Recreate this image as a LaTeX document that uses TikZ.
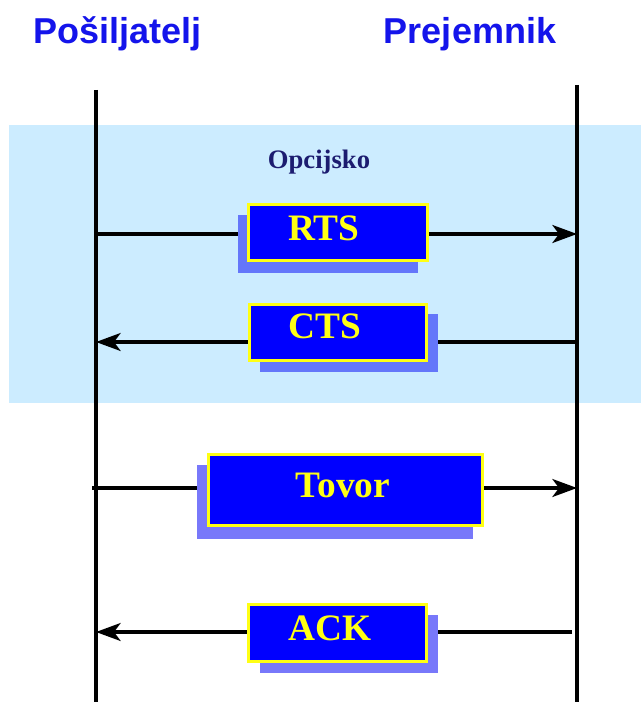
\documentclass[tikz,border=0pt]{standalone}
\usepackage{fontspec}
\setmainfont{Liberation Serif}
\newfontfamily\titlefont{Liberation Sans}
\usetikzlibrary{arrows.meta}
\definecolor{band}{RGB}{204,236,255}
\definecolor{titleblue}{RGB}{20,20,235}
\definecolor{navy}{RGB}{28,28,112}
\definecolor{boxblue}{RGB}{0,0,255}
\definecolor{boxyellow}{RGB}{255,255,20}
\definecolor{shadowband}{RGB}{100,118,250}
\definecolor{shadowwhite}{RGB}{120,120,250}
\tikzset{
  lifeline/.style={line width=2.4pt, black},
  msg/.style={line width=2.3pt, black, -{Stealth[length=18.5pt,width=13.5pt,inset=5pt]}},
  msgbox/.style={rectangle, draw=boxyellow, fill=boxblue, line width=2.4pt, inner sep=0pt},
  msgtext/.style={anchor=base, text=boxyellow, font=\fontsize{28}{30}\selectfont\bfseries, inner sep=0pt},
  title/.style={anchor=base, text=titleblue, font=\titlefont\fontsize{27}{30}\selectfont\bfseries, inner sep=0pt},
}
\begin{document}
\begin{tikzpicture}[x=0.75pt,y=-0.75pt]
\useasboundingbox (0,0) rectangle (641,702);
\fill[white] (0,0) rectangle (641,702);
% optional band
\fill[band] (9,125) rectangle (641,403);
% titles
\node[title] (snd) at (117.5,44) {Pošiljatelj};
\node[title] (rcv) at (470,44) {Prejemnik};
% lifelines
\coordinate (Ltop) at (96,90);
\coordinate (Lbot) at (96,702);
\coordinate (Rtop) at (577,85);
\coordinate (Rbot) at (577,702);
\draw[lifeline] (Ltop) -- (Lbot);
\draw[lifeline] (Rtop) -- (Rbot);
\node[anchor=base, text=navy, font=\fontsize{20}{22}\selectfont\bfseries, inner sep=0pt] (opt) at (319,169) {Opcijsko};
% message endpoints
\coordinate (rtsL) at (96,234);  \coordinate (rtsR) at (577,234);
\coordinate (ctsL) at (96,342);  \coordinate (ctsR) at (577,342);
\coordinate (tovL) at (92,488);  \coordinate (tovR) at (577,488);
\coordinate (ackL) at (96,632);  \coordinate (ackR) at (572,632);
\draw[msg] (rtsL) -- (rtsR);
\draw[msg] (ctsR) -- (ctsL);
\draw[msg] (tovL) -- (tovR);
\draw[msg] (ackR) -- (ackL);
% shadows
\fill[shadowband] (238,215) rectangle (418,273);
\fill[shadowband] (260,314) rectangle (438,372);
\fill[shadowwhite] (197,465) rectangle (473,539);
\fill[shadowwhite] (260,615) rectangle (438,673);
% boxes
\node[msgbox, minimum width={179*0.75pt}, minimum height={56*0.75pt}] (rts) at (338,232.5) {};
\node[msgbox, minimum width={177*0.75pt}, minimum height={56*0.75pt}] (cts) at (338,332.5) {};
\node[msgbox, minimum width={274*0.75pt}, minimum height={71*0.75pt}] (tov) at (345.5,490) {};
\node[msgbox, minimum width={178*0.75pt}, minimum height={57*0.75pt}] (ack) at (337.5,633) {};
\node[msgtext] (rtst) at (324,240) {RTS};
\node[msgtext] (ctst) at (325,338) {CTS};
\node[msgtext] (tovt) at (343,497) {Tovor};
\node[msgtext] (ackt) at (330,640) {ACK};
\end{tikzpicture}
\end{document}
